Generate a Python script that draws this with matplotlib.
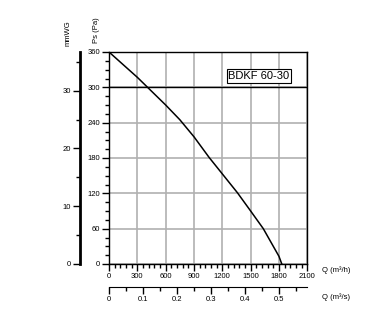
import matplotlib.pyplot as plt
from matplotlib.ticker import MultipleLocator

plt.rcParams['font.family'] = ['Liberation Sans', 'DejaVu Sans']

# fan curve BDKF 60-30: airflow (m3/h) vs static pressure (Pa)
flow = [0, 300, 600, 750, 900, 1060, 1200, 1360, 1500, 1634, 1800, 1830]
pressure = [360, 317, 270, 245, 216, 181, 153, 121, 90, 60, 13, 0]
model = "BDKF 60-30"

W, H = 381, 332
fig = plt.figure(figsize=(W / 100, H / 100), dpi=100)

def box(x0, y0, x1, y1):
    # pixel box (top-left origin) -> figure fraction
    return [x0 / W, 1 - y1 / H, (x1 - x0) / W, (y1 - y0) / H]

ax = fig.add_axes(box(109, 52, 307.3, 264))
ax.plot(flow, pressure, color='black', lw=1.1)
ax.set_xlim(0, 2100)
ax.set_ylim(0, 360)
ax.xaxis.set_major_locator(MultipleLocator(300))
ax.xaxis.set_minor_locator(MultipleLocator(60))
ax.yaxis.set_major_locator(MultipleLocator(60))
ax.yaxis.set_minor_locator(MultipleLocator(15))
ax.grid(True, which='major', color='#b0b0b0', lw=1.2)
ax.axhline(300, color='black', lw=1.0)
for s in ax.spines.values():
    s.set_linewidth(1.0)
ax.tick_params(which='major', direction='out', length=5, width=1, labelsize=5.5, pad=1.5)
ax.tick_params(which='minor', direction='out', length=3, width=1)
ax.text(1588, 319.5, model, ha='center', va='center', fontsize=8,
        bbox=dict(boxstyle='square,pad=0.15', fc='white', ec='black', lw=0.8))

# mmWG scale on the left
ax2 = fig.add_axes(box(80, 52, 81, 264))
ax2.set_ylim(0, 360 / 9.81)
ax2.set_xticks([])
for k in ('top', 'right', 'bottom'):
    ax2.spines[k].set_visible(False)
ax2.spines['left'].set_linewidth(2)
ax2.patch.set_visible(False)
ax2.yaxis.set_major_locator(MultipleLocator(10))
ax2.yaxis.set_minor_locator(MultipleLocator(5))
ax2.tick_params(which='major', direction='out', length=5, width=1, labelsize=5.5, pad=1.5)
ax2.tick_params(which='minor', direction='out', length=3, width=1)

# m3/s scale below
ax3 = fig.add_axes(box(109, 286, 307.3, 287))
ax3.set_xlim(0, 2100 / 3600)
ax3.set_yticks([])
for k in ('top', 'right', 'left'):
    ax3.spines[k].set_visible(False)
ax3.patch.set_visible(False)
ax3.xaxis.set_minor_locator(MultipleLocator(0.05))
ax3.set_xticks([0, 0.1, 0.2, 0.3, 0.4, 0.5])
ax3.set_xticklabels(['0', '0.1', '0.2', '0.3', '0.4', '0.5'])
ax3.tick_params(which='major', direction='out', length=5, width=1, labelsize=5.5, pad=1.5)
ax3.tick_params(which='minor', direction='out', length=3, width=1)

fig.text(322 / W, 1 - 270 / H, 'Q (m³/h)', fontsize=5.5, va='center', ha='left')
fig.text(322 / W, 1 - 297 / H, 'Q (m³/s)', fontsize=5.5, va='center', ha='left')
fig.text(68 / W, 1 - 33 / H, 'mmWG', fontsize=5.5, rotation=90, va='center', ha='center')
fig.text(96 / W, 1 - 30 / H, 'Ps (Pa)', fontsize=5.5, rotation=90, va='center', ha='center')

fig.savefig('out.png', dpi=100)
